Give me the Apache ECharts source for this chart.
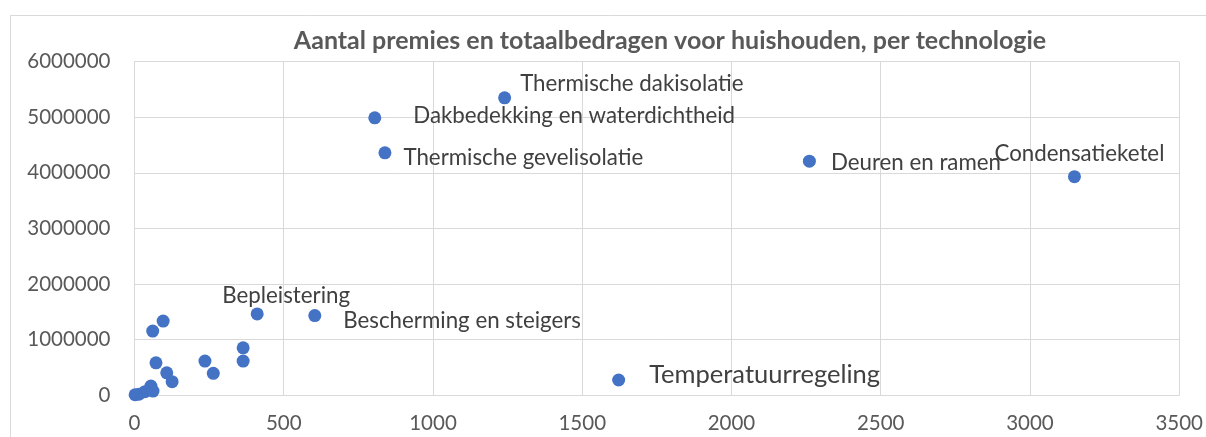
<!DOCTYPE html>
<html>
<head>
<meta charset="utf-8">
<script src="https://cdn.jsdelivr.net/npm/echarts@6/dist/echarts.min.js"></script>
<style>
html,body{margin:0;padding:0;background:#fff;}
#chart{width:1206px;height:437px;}
</style>
</head>
<body>
<div id="chart"></div>
<script>
// ---- data ----
const titleText = "Aantal premies en totaalbedragen voor huishouden, per technologie";
const technologies = [
  "Thermische dakisolatie", "Dakbedekking en waterdichtheid", "Thermische gevelisolatie",
  "Deuren en ramen", "Condensatieketel", "Bepleistering", "Bescherming en steigers",
  "Temperatuurregeling", "", "", "", "", "", "", "", "", "", "", "", "", "", ""
];
const aantalPremies = [1240, 805, 839, 2261, 3149, 411, 604, 1622, 61, 96, 72, 108, 126, 236, 264, 364, 364, 2, 15, 35, 55, 62];
const totaalBedrag = [5350000, 4990000, 4360000, 4210000, 3930000, 1460000, 1430000, 270000, 1150000, 1330000, 580000, 400000, 240000, 610000, 390000, 850000, 610000, 5000, 15000, 60000, 160000, 70000];

// ---- label styling (not data) ----
const labelPlacement = {
  "Thermische dakisolatie": {position: 'right', offset: [4, -14]},
  "Dakbedekking en waterdichtheid": {position: 'right', offset: [27, -2]},
  "Thermische gevelisolatie": {position: 'right', offset: [7, 5]},
  "Deuren en ramen": {position: 'right', offset: [10, 2]},
  "Condensatieketel": {position: 'top', offset: [5, 0]},
  "Bepleistering": {position: 'top', offset: [29, 4]},
  "Bescherming en steigers": {position: 'right', offset: [17, 5]},
  "Temperatuurregeling": {position: 'right', offset: [19, -5], fontSize: 25.5}
};

const FONT = "Lato, 'Open Sans', 'Liberation Sans', sans-serif";

const seriesData = aantalPremies.map((x, i) => {
  const name = technologies[i];
  const item = {value: [x, totaalBedrag[i]], name: name};
  if (name && labelPlacement[name]) {
    const p = labelPlacement[name];
    item.label = {
      show: true, formatter: name, position: p.position, offset: p.offset,
      fontSize: p.fontSize || 22.3, color: '#404040', fontFamily: FONT
    };
  }
  return item;
});

const chart = echarts.init(document.getElementById('chart'));
chart.setOption({
  animation: false,
  backgroundColor: '#fff',
  title: {
    text: titleText, left: 665, top: 23, textAlign: 'center',
    textStyle: {fontSize: 25, fontWeight: 'bold', color: '#595959', fontFamily: FONT}
  },
  graphic: [{
    type: 'rect', silent: true, z: -10,
    shape: {x: 10.5, y: 15.5, width: 1400, height: 600},
    style: {fill: 'none', stroke: '#d9d9d9', lineWidth: 1}
  }],
  grid: {left: 134.5, right: 26.5, top: 61.7, bottom: 42, containLabel: false},
  xAxis: {
    type: 'value', min: 0, max: 3500, interval: 500,
    axisLine: {show: true, lineStyle: {color: '#d9d9d9'}},
    axisTick: {show: false},
    splitLine: {show: true, lineStyle: {color: '#d9d9d9', width: 1}},
    axisLabel: {color: '#595959', fontSize: 20.5, fontFamily: FONT, margin: 18,
      formatter: v => String(v)}
  },
  yAxis: {
    type: 'value', min: 0, max: 6000000, interval: 1000000,
    axisLine: {show: true, lineStyle: {color: '#d9d9d9'}},
    axisTick: {show: false},
    splitLine: {show: true, lineStyle: {color: '#d9d9d9', width: 1}},
    axisLabel: {color: '#595959', fontSize: 20.5, fontFamily: FONT, margin: 24,
      formatter: v => String(v)}
  },
  series: [{
    type: 'scatter',
    symbol: 'circle',
    symbolSize: 13,
    itemStyle: {color: '#4472C4', opacity: 1},
    label: {show: false},
    data: seriesData
  }]
});
</script>
</body>
</html>
